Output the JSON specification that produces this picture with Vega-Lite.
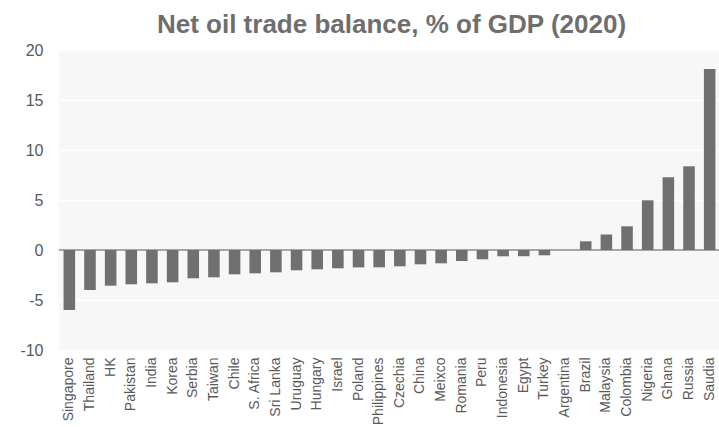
{
  "$schema": "https://vega.github.io/schema/vega-lite/v6.json",
  "width": 661,
  "height": 300,
  "autosize": {"type": "none"},
  "padding": {"left": 59, "top": 50, "right": 0, "bottom": 77},
  "background": "white",
  "title": {
    "text": "Net oil trade balance, % of GDP (2020)",
    "font": "Liberation Sans",
    "fontSize": 26,
    "fontWeight": "bold",
    "color": "#6e6e6e",
    "anchor": "middle",
    "baseline": "alphabetic",
    "offset": 16,
    "dx": 2,
    "dy": 33
  },
  "config": {
    "view": {"fill": "#f7f7f7", "stroke": null},
    "axis": {"labelFont": "Liberation Sans", "labelColor": "#595959"}
  },
  "data": {
    "values": [
      {"country": "Singapore", "value": -6.0},
      {"country": "Thailand", "value": -4.0},
      {"country": "HK", "value": -3.57},
      {"country": "Pakistan", "value": -3.43},
      {"country": "India", "value": -3.33},
      {"country": "Korea", "value": -3.23},
      {"country": "Serbia", "value": -2.83},
      {"country": "Taiwan", "value": -2.73},
      {"country": "Chile", "value": -2.43},
      {"country": "S. Africa", "value": -2.33},
      {"country": "Sri Lanka", "value": -2.23},
      {"country": "Uruguay", "value": -2.03},
      {"country": "Hungary", "value": -1.93},
      {"country": "Israel", "value": -1.83},
      {"country": "Poland", "value": -1.74},
      {"country": "Philippines", "value": -1.73},
      {"country": "Czechia", "value": -1.63},
      {"country": "China", "value": -1.43},
      {"country": "Meixco", "value": -1.33},
      {"country": "Romania", "value": -1.1},
      {"country": "Peru", "value": -0.93},
      {"country": "Indonesia", "value": -0.63},
      {"country": "Egypt", "value": -0.62},
      {"country": "Turkey", "value": -0.53},
      {"country": "Argentina", "value": 0.0},
      {"country": "Brazil", "value": 0.87},
      {"country": "Malaysia", "value": 1.55},
      {"country": "Colombia", "value": 2.37},
      {"country": "Nigeria", "value": 4.97},
      {"country": "Ghana", "value": 7.27},
      {"country": "Russia", "value": 8.37},
      {"country": "Saudia", "value": 18.1}
    ]
  },
  "layer": [
    {
      "mark": {"type": "rule", "color": "#a6a6a6", "strokeWidth": 1.5},
      "encoding": {"y": {"datum": 0, "type": "quantitative", "scale": {"domain": [-10, 20], "nice": false}}}
    },
    {
      "mark": {"type": "bar", "color": "#707070"},
      "encoding": {
        "x": {
          "field": "country",
          "type": "nominal",
          "sort": null,
          "scale": {"paddingInner": 0.44, "paddingOuter": 0.22},
          "axis": {
            "title": null,
            "labelAngle": -90,
            "labelFontSize": 14,
            "labelPadding": 7,
            "ticks": false,
            "domain": false
          }
        },
        "y": {
          "field": "value",
          "type": "quantitative",
          "scale": {"domain": [-10, 20], "nice": false},
          "axis": {
            "title": null,
            "values": [-10, -5, 0, 5, 10, 15, 20],
            "labelExpr": "toString(datum.value)",
            "labelFontSize": 16,
            "labelPadding": 16,
            "ticks": false,
            "domain": false,
            "grid": true,
            "gridColor": "white",
            "gridWidth": 1.5
          }
        }
      }
    }
  ]
}
